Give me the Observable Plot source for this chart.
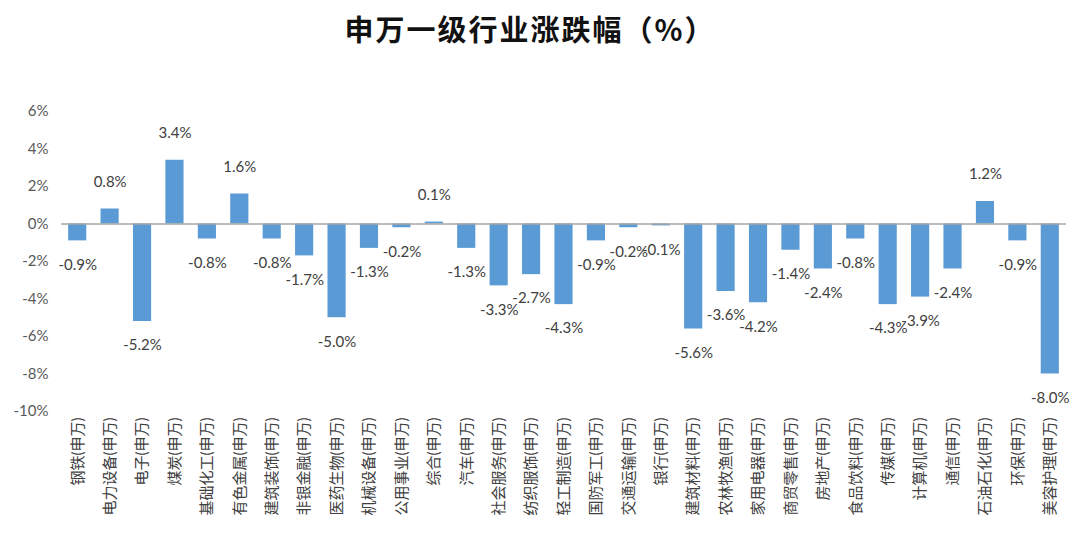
<!DOCTYPE html>
<html>
<head>
<meta charset="utf-8">
<script src="https://cdn.jsdelivr.net/npm/d3@7"></script>
<script src="https://cdn.jsdelivr.net/npm/@observablehq/plot@0.6"></script>
<style>
  html, body { margin: 0; padding: 0; background: #fff; }
  #title { width: 1060px; height: 60px; line-height: 56px; text-align: center;
    font-family: "Noto Sans CJK SC", sans-serif; font-weight: bold; font-size: 29px; letter-spacing: 2px; color: #111; }
  #chart svg { display: block; }
</style>
</head>
<body>
<div id="title">申万一级行业涨跌幅（%）</div>
<div id="chart"></div>
<script>
const industries = ["钢铁","电力设备","电子","煤炭","基础化工","有色金属","建筑装饰","非银金融","医药生物","机械设备","公用事业","综合","汽车","社会服务","纺织服饰","轻工制造","国防军工","交通运输","银行","建筑材料","农林牧渔","家用电器","商贸零售","房地产","食品饮料","传媒","计算机","通信","石油石化","环保","美容护理"];
const changes = [-0.9,0.8,-5.2,3.4,-0.8,1.6,-0.8,-1.7,-5.0,-1.3,-0.2,0.1,-1.3,-3.3,-2.7,-4.3,-0.9,-0.2,-0.1,-5.6,-3.6,-4.2,-1.4,-2.4,-0.8,-4.3,-3.9,-2.4,1.2,-0.9,-8.0];
const yTicks = [-10,-8,-6,-4,-2,0,2,4,6];

const data = industries.map((name, i) => ({ name: name + "(申万)", value: changes[i] }));
const pos = data.filter(d => d.value >= 0);
const neg = data.filter(d => d.value < 0);
const fmt = v => v.toFixed(1) + "%";
const font = "Lato, 'Noto Sans CJK SC', sans-serif";

const chart = Plot.plot({
  width: 1080,
  height: 487,
  marginTop: 51,
  marginBottom: 136,
  marginLeft: 61,
  marginRight: 14,
  style: { fontFamily: font, fontSize: "15px", color: "#595959", background: "#fff" },
  x: { domain: data.map(d => d.name), paddingInner: 0.44, paddingOuter: 0.22, round: false, label: null },
  y: { domain: [-10, 6], label: null },
  marks: [
    Plot.barY(data, { x: "name", y: "value", fill: "#5B9BD5" }),
    Plot.ruleY([0], { stroke: "#A6A6A6", strokeWidth: 1.5 }),
    Plot.axisY({ ticks: yTicks, tickFormat: d => d + "%", tickSize: 0, tickPadding: 13, fontSize: 15, fill: "#595959" }),
    Plot.axisX({ tickRotate: -90, tickSize: 0, tickPadding: 6, fontSize: 15, fill: "#404040" }),
    Plot.text(pos, { x: "name", y: "value", text: d => fmt(d.value), dy: -27, fontSize: 15, fill: "#404040" }),
    Plot.text(neg, { x: "name", y: "value", text: d => fmt(d.value), dy: 24, fontSize: 15, fill: "#404040" })
  ]
});
document.getElementById("chart").appendChild(chart);
</script>
</body>
</html>
